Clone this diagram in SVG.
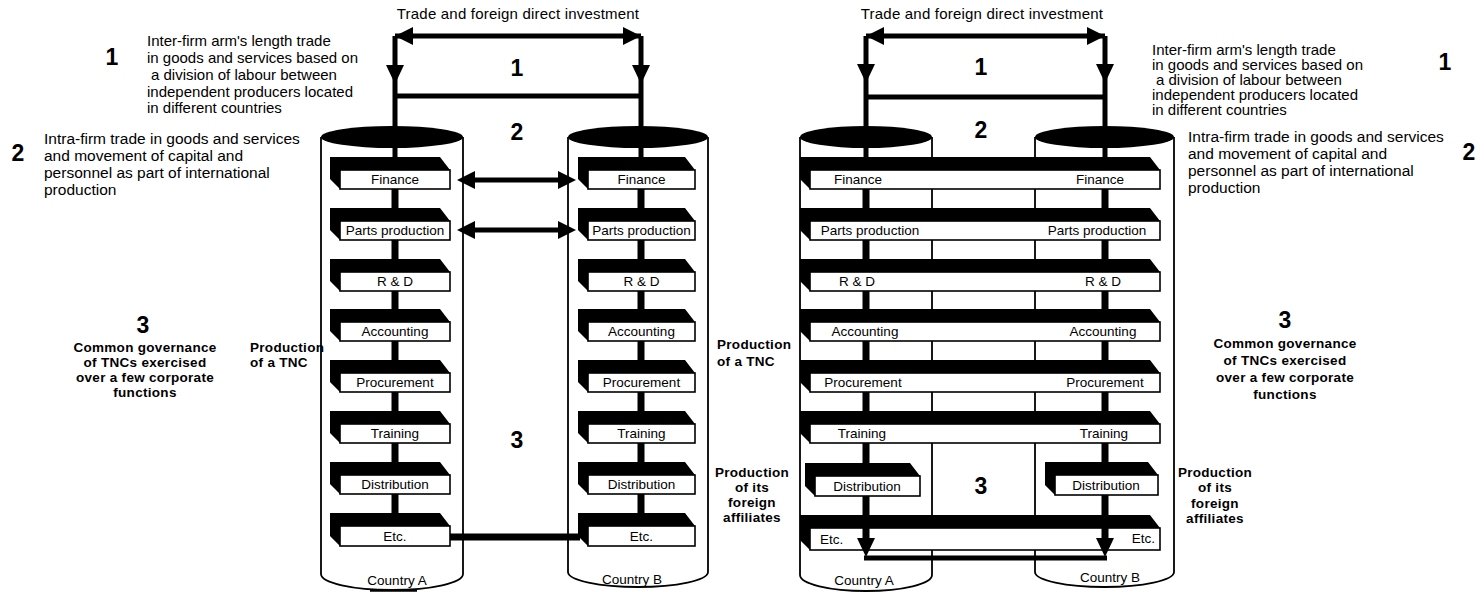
<svg xmlns="http://www.w3.org/2000/svg" width="1484" height="592" viewBox="0 0 1484 592">
<style>
  text { font-family: "Liberation Sans", Arial, sans-serif; fill: #000; }
  .cyl { fill: #fff; stroke: #000; stroke-width: 1.8; }
  .cap { fill: #000; }
  .side { fill: #000; }
  .face { fill: #fff; stroke: #000; stroke-width: 1.6; }
  .lbl { font-size: 13.5px; text-anchor: middle; }
  .lblL { font-size: 13.5px; text-anchor: start; }
  .lblR { font-size: 13.5px; text-anchor: end; }
  .conn { stroke: #000; stroke-width: 7; fill: none; }
  .arr { stroke: #000; stroke-width: 5; fill: none; }
  .num { font-size: 23px; font-weight: bold; text-anchor: middle; }
  .note { font-size: 15px; }
  .note2 { font-size: 15.5px; }
  .title { font-size: 15px; letter-spacing: 0.2px; text-anchor: middle; }
  .bold { font-size: 13.5px; font-weight: bold; letter-spacing: 0.3px; }
  .boldc { font-size: 13.5px; font-weight: bold; letter-spacing: 0.3px; text-anchor: middle; }
  .ctry { font-size: 13.5px; text-anchor: middle; }
</style>
<defs>
  <path id="aL" d="M0,-9 L-18,0 L0,9 Z"/>
  <path id="aR" d="M0,-9 L18,0 L0,9 Z"/>
  <path id="aD" d="M-9,0 L9,0 L0,19 Z"/>
</defs>

<!-- ===== Cylinders ===== -->
<g id="cylinders">
  <g id="cylL-A">
    <path class="cyl" d="M321,137 V574 A71,16 0 0 0 463,574 V137"/>
    <ellipse class="cap" cx="392" cy="137" rx="71" ry="11"/>
  </g>
  <g id="cylL-B">
    <path class="cyl" d="M568,137 V572 A70,15 0 0 0 708,572 V137"/>
    <ellipse class="cap" cx="638" cy="137" rx="70" ry="11"/>
  </g>
  <g id="cylR-A">
    <path class="cyl" d="M800,137 V575 A66,16 0 0 0 932,575 V137"/>
    <ellipse class="cap" cx="866" cy="137" rx="66" ry="11"/>
  </g>
  <g id="cylR-B">
    <path class="cyl" d="M1035,137 V572 A69.5,15 0 0 0 1174,572 V137"/>
    <ellipse class="cap" cx="1104.5" cy="137" rx="69.5" ry="11"/>
  </g>
</g>

<!-- ===== Left panel blocks, Country A ===== -->
<g id="L-A-finance"><path class="side" d="M330,157 H440 L450,170 H340 V189 L330,179 Z"/><rect class="face" x="340" y="170" width="110" height="19"/><text class="lbl" x="395" y="184">Finance</text></g>
<g id="L-A-parts"><path class="side" d="M330,208 H440 L450,221 H340 V240 L330,230 Z"/><rect class="face" x="340" y="221" width="110" height="19"/><text class="lbl" x="395" y="235">Parts production</text></g>
<g id="L-A-rd"><path class="side" d="M330,259 H440 L450,272 H340 V291 L330,281 Z"/><rect class="face" x="340" y="272" width="110" height="19"/><text class="lbl" x="395" y="286">R &amp; D</text></g>
<g id="L-A-accounting"><path class="side" d="M330,309 H440 L450,322 H340 V341 L330,331 Z"/><rect class="face" x="340" y="322" width="110" height="19"/><text class="lbl" x="395" y="336">Accounting</text></g>
<g id="L-A-procurement"><path class="side" d="M330,360 H440 L450,373 H340 V392 L330,382 Z"/><rect class="face" x="340" y="373" width="110" height="19"/><text class="lbl" x="395" y="387">Procurement</text></g>
<g id="L-A-training"><path class="side" d="M330,411 H440 L450,424 H340 V443 L330,433 Z"/><rect class="face" x="340" y="424" width="110" height="19"/><text class="lbl" x="395" y="438">Training</text></g>
<g id="L-A-distribution"><path class="side" d="M330,462 H440 L450,475 H340 V494 L330,484 Z"/><rect class="face" x="340" y="475" width="110" height="19"/><text class="lbl" x="395" y="489">Distribution</text></g>
<g id="L-A-etc"><path class="side" d="M330,513 H440 L450,526 H340 V546 L330,536 Z"/><rect class="face" x="340" y="526" width="110" height="20"/><text class="lbl" x="395" y="541">Etc.</text></g>

<!-- ===== Left panel blocks, Country B ===== -->
<g id="L-B-finance"><path class="side" d="M578,157 H685 L695,170 H588 V189 L578,179 Z"/><rect class="face" x="588" y="170" width="107" height="19"/><text class="lbl" x="641.5" y="184">Finance</text></g>
<g id="L-B-parts"><path class="side" d="M578,208 H685 L695,221 H588 V240 L578,230 Z"/><rect class="face" x="588" y="221" width="107" height="19"/><text class="lbl" x="641.5" y="235">Parts production</text></g>
<g id="L-B-rd"><path class="side" d="M578,259 H685 L695,272 H588 V291 L578,281 Z"/><rect class="face" x="588" y="272" width="107" height="19"/><text class="lbl" x="641.5" y="286">R &amp; D</text></g>
<g id="L-B-accounting"><path class="side" d="M578,309 H685 L695,322 H588 V341 L578,331 Z"/><rect class="face" x="588" y="322" width="107" height="19"/><text class="lbl" x="641.5" y="336">Accounting</text></g>
<g id="L-B-procurement"><path class="side" d="M578,360 H685 L695,373 H588 V392 L578,382 Z"/><rect class="face" x="588" y="373" width="107" height="19"/><text class="lbl" x="641.5" y="387">Procurement</text></g>
<g id="L-B-training"><path class="side" d="M578,411 H685 L695,424 H588 V443 L578,433 Z"/><rect class="face" x="588" y="424" width="107" height="19"/><text class="lbl" x="641.5" y="438">Training</text></g>
<g id="L-B-distribution"><path class="side" d="M578,462 H685 L695,475 H588 V494 L578,484 Z"/><rect class="face" x="588" y="475" width="107" height="19"/><text class="lbl" x="641.5" y="489">Distribution</text></g>
<g id="L-B-etc"><path class="side" d="M578,513 H685 L695,526 H588 V546 L578,536 Z"/><rect class="face" x="588" y="526" width="107" height="20"/><text class="lbl" x="641.5" y="541">Etc.</text></g>

<!-- ===== Right panel wide blocks ===== -->
<g id="R-finance"><path class="side" d="M800,157 H1150 L1160,170 H810 V189 L800,179 Z"/><rect class="face" x="810" y="170" width="350" height="19"/><text class="lbl" x="858" y="184">Finance</text><text class="lbl" x="1100" y="184">Finance</text></g>
<g id="R-parts"><path class="side" d="M800,208 H1150 L1160,221 H810 V240 L800,230 Z"/><rect class="face" x="810" y="221" width="350" height="19"/><text class="lbl" x="870" y="235">Parts production</text><text class="lbl" x="1097" y="235">Parts production</text></g>
<g id="R-rd"><path class="side" d="M800,259 H1150 L1160,272 H810 V291 L800,281 Z"/><rect class="face" x="810" y="272" width="350" height="19"/><text class="lbl" x="857" y="286">R &amp; D</text><text class="lbl" x="1103" y="286">R &amp; D</text></g>
<g id="R-accounting"><path class="side" d="M800,309 H1150 L1160,322 H810 V341 L800,331 Z"/><rect class="face" x="810" y="322" width="350" height="19"/><text class="lbl" x="865" y="336">Accounting</text><text class="lbl" x="1103" y="336">Accounting</text></g>
<g id="R-procurement"><path class="side" d="M800,360 H1150 L1160,373 H810 V392 L800,382 Z"/><rect class="face" x="810" y="373" width="350" height="19"/><text class="lbl" x="863" y="387">Procurement</text><text class="lbl" x="1105" y="387">Procurement</text></g>
<g id="R-training"><path class="side" d="M800,411 H1150 L1160,424 H810 V443 L800,433 Z"/><rect class="face" x="810" y="424" width="350" height="19"/><text class="lbl" x="862" y="438">Training</text><text class="lbl" x="1104" y="438">Training</text></g>
<g id="R-A-distribution"><path class="side" d="M805,463 H910 L920,476 H815 V496 L805,486 Z"/><rect class="face" x="815" y="476" width="105" height="20"/><text class="lbl" x="867" y="491">Distribution</text></g>
<g id="R-B-distribution"><path class="side" d="M1045,462 H1148 L1158,475 H1055 V495 L1045,485 Z"/><rect class="face" x="1055" y="475" width="103" height="20"/><text class="lbl" x="1106" y="490">Distribution</text></g>
<g id="R-etc"><path class="side" d="M800,515 H1150 L1160,528 H810 V550 L800,540 Z"/><rect class="face" x="810" y="528" width="350" height="22"/><text class="lblL" x="820" y="544">Etc.</text><text class="lblR" x="1155" y="543">Etc.</text></g>

<!-- ===== Connectors ===== -->
<g id="connectors">
  <!-- left panel: trade / FDI -->
  <path class="arr" d="M395,36 H641 M395,36 V157 M641,36 V157 M395,96 H641"/>
  <use href="#aL" x="413" y="36"/>
  <use href="#aR" x="623" y="36"/>
  <use href="#aD" x="395" y="65"/>
  <use href="#aD" x="641" y="65"/>
  <!-- left panel: chains inside cylinders -->
  <path class="conn" d="M395,189 V208 M395,240 V259 M395,291 V309 M395,341 V360 M395,392 V411 M395,443 V462 M395,494 V513"/>
  <path class="conn" d="M641,189 V208 M641,240 V259 M641,291 V309 M641,341 V360 M641,392 V411 M641,443 V462 M641,494 V513"/>
  <!-- left panel: intra-firm double arrows -->
  <path class="arr" d="M473,180 H558 M473,230 H558"/>
  <use href="#aL" x="475" y="180"/>
  <use href="#aR" x="558" y="180"/>
  <use href="#aL" x="475" y="230"/>
  <use href="#aR" x="558" y="230"/>
  <!-- left panel: Etc. link -->
  <path class="conn" d="M450,537 H580"/>

  <!-- right panel: trade / FDI -->
  <path class="arr" d="M866,36 H1105 M866,36 V157 M1105,36 V157 M866,97 H1105"/>
  <use href="#aL" x="884" y="36"/>
  <use href="#aR" x="1087" y="36"/>
  <use href="#aD" x="866" y="64"/>
  <use href="#aD" x="1105" y="64"/>
  <!-- right panel: chains -->
  <path class="conn" d="M866,189 V208 M866,240 V259 M866,291 V309 M866,341 V360 M866,392 V411 M866,443 V463 M866,496 V540"/>
  <path class="conn" d="M1105,189 V208 M1105,240 V259 M1105,291 V309 M1105,341 V360 M1105,392 V411 M1105,443 V462 M1105,495 V540"/>
  <use href="#aD" x="866" y="538"/>
  <use href="#aD" x="1105" y="538"/>
  <path class="arr" d="M864,558 H1107"/>
</g>

<!-- short mark under Country A (as printed) -->
<path d="M370,590.5 H417" stroke="#000" stroke-width="2.5"/>

<!-- ===== Texts ===== -->
<g id="labels-left">
  <text class="title" x="518" y="19">Trade and foreign direct investment</text>
  <text class="num" x="517" y="76">1</text>
  <text class="num" x="517" y="140">2</text>
  <text class="num" x="517" y="448">3</text>
  <text class="num" x="112" y="65">1</text>
  <text class="note" x="147" y="46">Inter-firm arm's length trade</text>
  <text class="note" x="147" y="63">in goods and services based on</text>
  <text class="note" x="151" y="80">a division of labour between</text>
  <text class="note" x="147" y="97">independent producers located</text>
  <text class="note" x="147" y="113">in different countries</text>
  <text class="num" x="18" y="161">2</text>
  <text class="note2" x="44" y="144">Intra-firm trade in goods and services</text>
  <text class="note2" x="44" y="161">and movement of capital and</text>
  <text class="note2" x="44" y="178">personnel as part of international</text>
  <text class="note2" x="44" y="195">production</text>
  <text class="num" x="143" y="333">3</text>
  <text class="boldc" x="145" y="352">Common governance</text>
  <text class="boldc" x="145" y="367">of TNCs exercised</text>
  <text class="boldc" x="145" y="382">over a few corporate</text>
  <text class="boldc" x="145" y="397">functions</text>
  <text class="bold" x="250" y="352">Production</text>
  <text class="bold" x="250" y="367">of a TNC</text>
  <text class="bold" x="717" y="349">Production</text>
  <text class="bold" x="717" y="366">of a TNC</text>
  <text class="boldc" x="752" y="477">Production</text>
  <text class="boldc" x="752" y="492">of its</text>
  <text class="boldc" x="752" y="507">foreign</text>
  <text class="boldc" x="752" y="522">affiliates</text>
  <text class="ctry" x="397" y="585">Country A</text>
  <text class="ctry" x="632" y="584">Country B</text>
</g>
<g id="labels-right">
  <text class="title" x="982" y="19">Trade and foreign direct investment</text>
  <text class="num" x="981" y="75">1</text>
  <text class="num" x="981" y="138">2</text>
  <text class="num" x="981" y="494">3</text>
  <text class="num" x="1445" y="70">1</text>
  <text class="note" x="1152" y="55">Inter-firm arm's length trade</text>
  <text class="note" x="1152" y="70">in goods and services based on</text>
  <text class="note" x="1156" y="85">a division of labour between</text>
  <text class="note" x="1152" y="100">independent producers located</text>
  <text class="note" x="1152" y="115">in different countries</text>
  <text class="num" x="1469" y="160">2</text>
  <text class="note2" x="1188" y="142">Intra-firm trade in goods and services</text>
  <text class="note2" x="1188" y="159">and movement of capital and</text>
  <text class="note2" x="1188" y="176">personnel as part of international</text>
  <text class="note2" x="1188" y="193">production</text>
  <text class="num" x="1285" y="328">3</text>
  <text class="boldc" x="1285" y="348">Common governance</text>
  <text class="boldc" x="1285" y="365">of TNCs exercised</text>
  <text class="boldc" x="1285" y="382">over a few corporate</text>
  <text class="boldc" x="1285" y="399">functions</text>
  <text class="boldc" x="1215" y="477">Production</text>
  <text class="boldc" x="1215" y="492">of its</text>
  <text class="boldc" x="1215" y="508">foreign</text>
  <text class="boldc" x="1215" y="523">affiliates</text>
  <text class="ctry" x="864" y="585">Country A</text>
  <text class="ctry" x="1110" y="582">Country B</text>
</g>
</svg>
